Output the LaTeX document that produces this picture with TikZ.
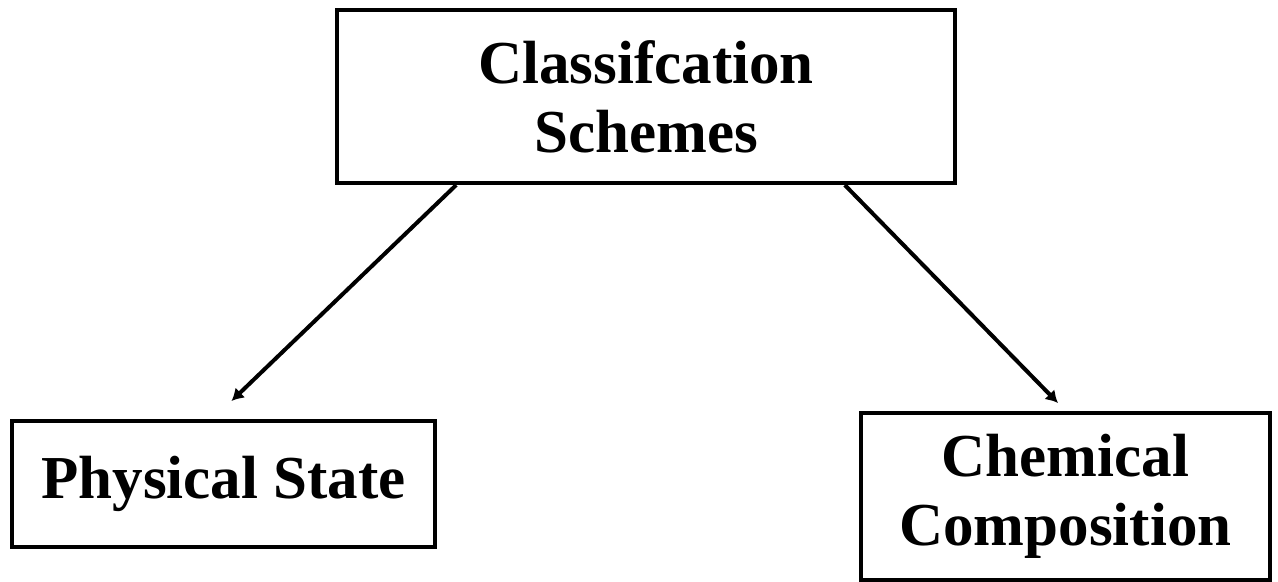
\documentclass[tikz,border=0pt]{standalone}
\usepackage{fontspec}
\setmainfont{Liberation Serif}
\usetikzlibrary{arrows.meta}

\begin{document}
\begin{tikzpicture}[x=0.5pt, y=-0.5pt,
		box/.style={draw, line width=2pt, align=center, inner sep=0pt,
			font=\fontsize{30.5}{34.5}\selectfont\bfseries},
		arr/.style={line width=2pt, -{Latex[length=6pt, width=7pt]}}]
			%%%%% START %%%%%
			\useasboundingbox (0, 0) rectangle (1278, 582);
			
			\node[box, minimum width=309pt, minimum height=86.5pt] (cls) at (646, 96.5) {Classifcation\\Schemes};
			
			\node[box, minimum width=211.5pt, minimum height=63pt] (phys) at (223.5, 484) {Physical State};
			
			\node[box, minimum width=204.5pt, minimum height=83.5pt] (chem) at (1065.5, 496.5) {Chemical\\Composition};
			
			\draw[arr] (cls.205) -- ([xshift=4pt, yshift=9pt]phys.north);
			\draw[arr] (cls.336) -- ([xshift=-3.75pt, yshift=4pt]chem.north);
			%%%%% END %%%%%
		\end{tikzpicture}
\end{document}
